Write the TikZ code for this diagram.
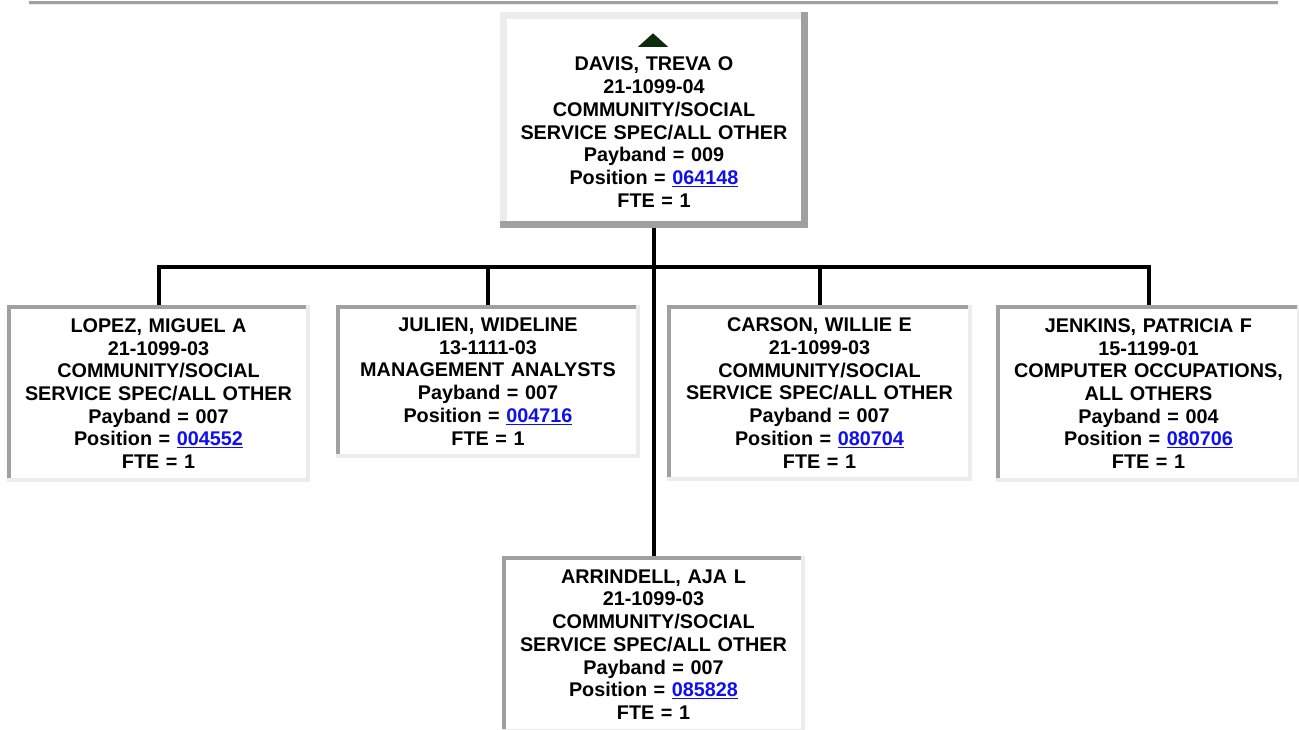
\documentclass[tikz,border=0pt]{standalone}
\usepackage{fontspec}
\setmainfont{Liberation Sans}
\usepackage{xcolor}
\usetikzlibrary{positioning}

\definecolor{edgedark}{RGB}{160,160,160}
\definecolor{edgelight}{RGB}{236,236,236}
\definecolor{linkblue}{RGB}{16,16,238}
\definecolor{markgreen}{RGB}{12,44,12}
\newcommand{\poslink}[1]{\textcolor{linkblue}{\underline{#1}}}

\begin{document}
\begin{tikzpicture}[
    x=1pt, y=1pt,
    staff node/.style={rectangle, fill=white, inner sep=0pt, minimum width=300pt, minimum height=173pt, text width=292pt, align=center, font=\fontsize{19.8}{22.7}\selectfont\bfseries},
    link/.style={line width=4pt},
    raised edge/.style={line width=7pt, line cap=rect},
    sunk edge/.style={line width=4pt, line cap=rect}
]
    \path[use as bounding box] (0,0) rectangle (1299,-729);
    \clip (0,0) rectangle (1299,-729);

    % --- Rule along the top ---
    \fill[edgedark] (29,-1) rectangle (1278,-4);
    \fill[edgelight] (29,-4) rectangle (1278,-5);

    % --- Supervisor ---
    \node[staff node, minimum width=301pt, minimum height=209pt, text height=38pt] (davis) at (654, -120) {DAVIS, TREVA O\\21-1099-04\\COMMUNITY/SOCIAL\\SERVICE SPEC/ALL OTHER\\Payband = 009\\Position = \poslink{064148}\\FTE = 1};
    \fill[markgreen] ([xshift=-1pt, yshift=-18pt]davis.north) -- ++(15,-13.5) -- ++(-30,0) -- cycle;

    % --- Staff ---
    \node[staff node, minimum width=299pt] (lopez) at (158.5, -393.5) {LOPEZ, MIGUEL A\\21-1099-03\\COMMUNITY/SOCIAL\\SERVICE SPEC/ALL OTHER\\Payband = 007\\Position = \poslink{004552}\\FTE = 1};
    \node[staff node, minimum height=149pt] (julien) at (488, -381.5) {JULIEN, WIDELINE\\13-1111-03\\MANAGEMENT ANALYSTS\\Payband = 007\\Position = \poslink{004716}\\FTE = 1};
    \node[staff node, minimum width=301pt, minimum height=172pt] (carson) at (819.5, -393) {CARSON, WILLIE E\\21-1099-03\\COMMUNITY/SOCIAL\\SERVICE SPEC/ALL OTHER\\Payband = 007\\Position = \poslink{080704}\\FTE = 1};
    \node[staff node, minimum width=301pt] (jenkins) at (1148.5, -393.5) {JENKINS, PATRICIA F\\15-1199-01\\COMPUTER OCCUPATIONS,\\ALL OTHERS\\Payband = 004\\Position = \poslink{080706}\\FTE = 1};
    \node[staff node, minimum width=299pt] (arrindell) at (653.5, -644.5) {ARRINDELL, AJA L\\21-1099-03\\COMMUNITY/SOCIAL\\SERVICE SPEC/ALL OTHER\\Payband = 007\\Position = \poslink{085828}\\FTE = 1};

    % --- Connectors ---
    \coordinate (bus) at (654, -267);
    \draw[link] (lopez.north) |- (bus) -| (jenkins.north);
    \foreach \n in {julien, carson}
        \draw[link] (\n.north) -- (\n.north |- bus);
    \draw[link] (davis.south) -- (davis.south |- arrindell.north);

    % --- Box edges ---
    \draw[raised edge, edgelight] (davis.south west) -- (davis.north west) -- (davis.north east);
    \draw[raised edge, edgedark] (davis.north east) -- (davis.south east) -- (davis.south west);
    \foreach \n in {lopez, julien, carson, jenkins, arrindell} {
        \draw[sunk edge, edgedark] (\n.south west) -- (\n.north west) -- (\n.north east);
        \draw[sunk edge, edgelight] (\n.north east) -- (\n.south east) -- (\n.south west);
    }
\end{tikzpicture}
\end{document}
